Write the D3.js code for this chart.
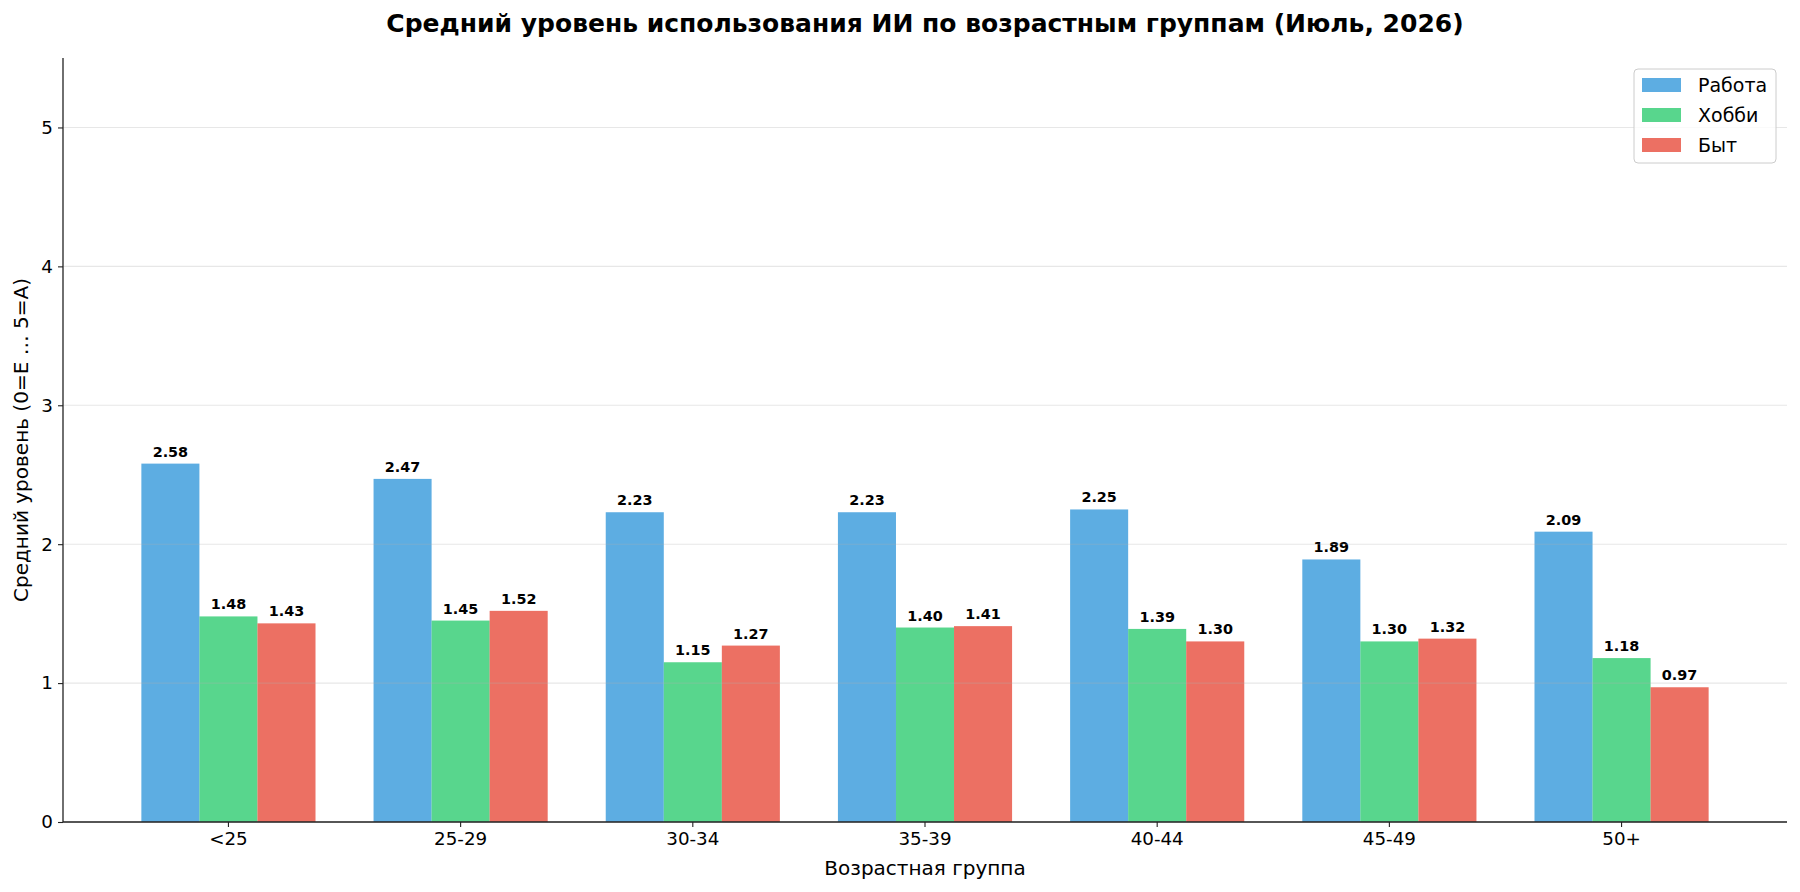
<!DOCTYPE html>
<meta charset="utf-8">
<script src="https://d3js.org/d3.v7.min.js"></script>
<style>
  body { margin: 0; background: white; }
  text { font-family: "DejaVu Sans", sans-serif; }
</style>
<div id="chart"></div>
<script>

    // data
    const groups = ["<25", "25-29", "30-34", "35-39", "40-44", "45-49", "50+"];
    const seriesNames = ["Работа", "Хобби", "Быт"];
    const work  = [2.58, 2.47, 2.23, 2.23, 2.25, 1.89, 2.09];
    const hobby = [1.48, 1.45, 1.15, 1.40, 1.39, 1.30, 1.18];
    const home  = [1.43, 1.52, 1.27, 1.41, 1.30, 1.32, 0.97];
    const yTicks = [0, 1, 2, 3, 4, 5];
    const colors = ["#3498db", "#2ecc71", "#e74c3c"];

    const seriesValues = [work, hobby, home];

    const W = 1800, H = 892;
    const margin = {top: 58, right: 13, bottom: 70, left: 63},
          width = W - margin.left - margin.right,
          height = H - margin.top - margin.bottom;

    const svg = d3.select("#chart")
      .append("svg")
        .attr("width", W)
        .attr("height", H);

    const g = svg.append("g")
        .attr("transform", "translate(" + margin.left + "," + margin.top + ")");

    // scales
    const x = d3.scaleBand()
      .domain(groups)
      .range([0, width])
      .paddingInner(0.25)
      .paddingOuter(0.3375);

    const xSub = d3.scaleBand()
      .domain(seriesNames)
      .range([0, x.bandwidth()]);

    const y = d3.scaleLinear()
      .domain([0, 5.5])
      .range([height, 0]);

    // bars + value labels
    seriesNames.forEach(function(name, si) {
      g.append("g")
        .selectAll("rect")
        .data(seriesValues[si])
        .enter()
        .append("rect")
          .attr("x", (d, i) => x(groups[i]) + xSub(name))
          .attr("y", d => y(d))
          .attr("width", xSub.bandwidth())
          .attr("height", d => height - y(d))
          .attr("fill", colors[si])
          .attr("fill-opacity", 0.8);

      g.append("g")
        .selectAll("text")
        .data(seriesValues[si])
        .enter()
        .append("text")
          .text(d => d.toFixed(2))
          .attr("x", (d, i) => x(groups[i]) + xSub(name) + xSub.bandwidth() / 2)
          .attr("y", d => y(d) - 7)
          .attr("text-anchor", "middle")
          .attr("font-size", 14.4)
          .attr("font-weight", "bold")
          .attr("fill", "black");
    });

    // grid on top, faint
    g.append("g")
      .selectAll("line")
      .data(yTicks)
      .enter()
      .append("line")
        .attr("x1", 0)
        .attr("x2", width)
        .attr("y1", d => y(d))
        .attr("y2", d => y(d))
        .attr("stroke", "#b0b0b0")
        .attr("stroke-opacity", 0.3)
        .attr("stroke-width", 1.1);

    // axes
    const xAxis = g.append("g")
      .attr("transform", "translate(0," + height + ")")
      .call(d3.axisBottom(x).tickSize(5).tickPadding(5));
    const yAxis = g.append("g")
      .call(d3.axisLeft(y).tickValues(yTicks).tickFormat(d3.format("d")).tickSize(5).tickPadding(5));

    [xAxis, yAxis].forEach(function(a) {
      a.selectAll("text").attr("font-size", 18.3).attr("fill", "black")
        .style("font-family", "DejaVu Sans");
      a.selectAll("line").attr("stroke", "#222").attr("stroke-width", 1.1);
      a.select(".domain").attr("stroke", "#222").attr("stroke-width", 1.3);
    });
    yAxis.select(".domain").attr("d", "M0," + height + "V0");
    xAxis.select(".domain").attr("d", "M0,0H" + width);

    // axis labels
    svg.append("text")
      .attr("x", margin.left + width / 2)
      .attr("y", 875)
      .attr("text-anchor", "middle")
      .attr("font-size", 20)
      .text("Возрастная группа");

    svg.append("text")
      .attr("transform", "translate(28," + (margin.top + height / 2) + ") rotate(-90)")
      .attr("text-anchor", "middle")
      .attr("font-size", 20)
      .text("Средний уровень (0=E … 5=A)");

    // title
    svg.append("text")
      .attr("x", margin.left + width / 2)
      .attr("y", 32)
      .attr("text-anchor", "middle")
      .attr("font-size", 25)
      .attr("font-weight", "bold")
      .text("Средний уровень использования ИИ по возрастным группам (Июль, 2026)");

    // legend
    const legend = svg.append("g")
      .attr("transform", "translate(1634,69)");
    legend.append("rect")
      .attr("width", 142)
      .attr("height", 94)
      .attr("rx", 4)
      .attr("fill", "white")
      .attr("fill-opacity", 0.8)
      .attr("stroke", "#cccccc");
    seriesNames.forEach(function(name, i) {
      legend.append("rect")
        .attr("x", 8)
        .attr("y", 9 + i * 30)
        .attr("width", 39)
        .attr("height", 14)
        .attr("fill", colors[i])
        .attr("fill-opacity", 0.8);
      legend.append("text")
        .attr("x", 64)
        .attr("y", 16 + i * 30)
        .attr("dy", "0.35em")
        .attr("font-size", 19)
        .text(name);
    });

</script>
